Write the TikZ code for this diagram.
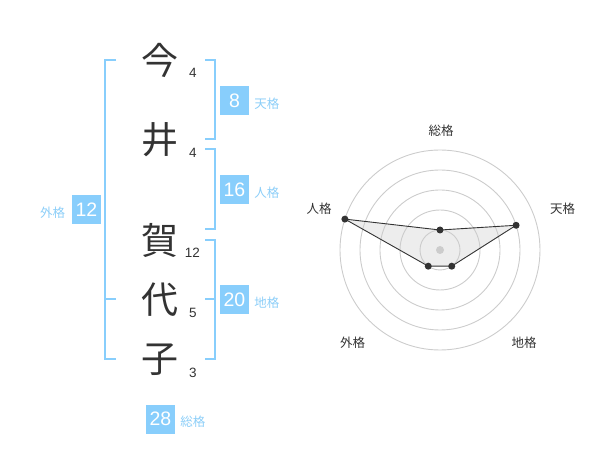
\documentclass[tikz,border=0pt]{standalone}
\usepackage{fontspec}
\usepackage{tikz}
\usetikzlibrary{positioning}
\setmainfont{Liberation Sans}
\newfontfamily\jp{Noto Sans CJK JP}
\definecolor{kakublue}{RGB}{136,206,252}
\definecolor{kakutext}{RGB}{140,206,248}
\definecolor{inkgray}{RGB}{51,51,51}
\tikzset{
    kanji/.style={font=\jp\fontsize{37}{37}\selectfont, text=inkgray, inner sep=0pt},
    strokes/.style={font=\fontsize{13.5}{13.5}\selectfont, text=inkgray, inner sep=0pt},
    kakubox/.style={fill=kakublue, minimum size=29pt, inner sep=0pt, text=white, font=\fontsize{19.5}{19.5}\selectfont},
    kakuname/.style={font=\jp\fontsize{12.5}{12.5}\selectfont, text=kakutext, inner sep=0pt},
    bracket/.style={draw=kakublue, line width=2pt},
    ring/.style={draw=black!20, line width=0.9pt},
    axisname/.style={font=\jp\fontsize{12.5}{12.5}\selectfont, text=inkgray, inner sep=0pt},
    dot/.style={circle, fill=inkgray, inner sep=0pt, minimum size=7pt}
}

\begin{document}
\begin{tikzpicture}[x=1pt,y=-1pt]
    \useasboundingbox (0,0) rectangle (600,470);

    \node[kanji] (K1) at (160,60) {今};
    \node[kanji] (K2) at (160,140) {井};
    \node[kanji] (K3) at (160,240) {賀};
    \node[kanji] (K4) at (160,300) {代};
    \node[kanji] (K5) at (160,360) {子};

    \node[strokes] (N1) at (193,73) {4};
    \node[strokes] (N2) at (193,153) {4};
    \node[strokes] (N3) at (192.5,253) {12};
    \node[strokes] (N4) at (193,313) {5};
    \node[strokes] (N5) at (193,373) {3};

    \draw[bracket] (116,60) -| (105,359) -- (116,359);
    \draw[bracket] (105,299) -- (116,299);
    \draw[bracket] (205,60) -| (215,139) -- (205,139);
    \draw[bracket] (205,149) -| (215,229) -- (205,229);
    \draw[bracket] (205,240) -| (215,359) -- (205,359);
    \draw[bracket] (215,299) -- (205,299);

    \node[kakubox] (Ten) at (234.5,100.5) {8};
    \node[kakuname, right=5pt of Ten, yshift=-3pt] (TenL) {天格};
    \node[kakubox] (Jin) at (234.5,190) {16};
    \node[kakuname, right=5pt of Jin, yshift=-3pt] (JinL) {人格};
    \node[kakubox] (Chi) at (234.5,300) {20};
    \node[kakuname, right=5pt of Chi, yshift=-3pt] (ChiL) {地格};
    \node[kakubox] (Gai) at (86.5,210) {12};
    \node[kakuname, left=6.5pt of Gai, yshift=-3pt] (GaiL) {外格};
    \node[kakubox] (Sou) at (160.5,419) {28};
    \node[kakuname, right=5pt of Sou, yshift=-3pt] (SouL) {総格};

    % radar
    \begin{scope}[shift={(440,250)}]
        \coordinate (S) at (-90:20);
        \coordinate (T) at (-18:80);
        \coordinate (G) at (54:20);
        \coordinate (W) at (126:20);
        \coordinate (J) at (198:100);
        \fill[black!7] (S) -- (T) -- (G) -- (W) -- (J) -- cycle;
        \foreach \r in {20,40,...,100}
            \draw[ring] (0,0) circle[radius=\r pt];
        \fill[black!20] (0,0) circle[radius=4pt];
        \draw[inkgray, line width=0.9pt] (S) -- (T) -- (G) -- (W) -- (J) -- cycle;
        \foreach \p in {S,T,G,W,J}
            \node[dot] at (\p) {};

        \node[axisname] (SA) at (1,-119.5) {総格};
        \node[axisname] (TA) at (122.5,-41.5) {天格};
        \node[axisname] (JA) at (-121,-41.5) {人格};
        \node[axisname] (WA) at (-87.5,92.5) {外格};
        \node[axisname] (GA) at (84,92.5) {地格};
    \end{scope}
\end{tikzpicture}
\end{document}
